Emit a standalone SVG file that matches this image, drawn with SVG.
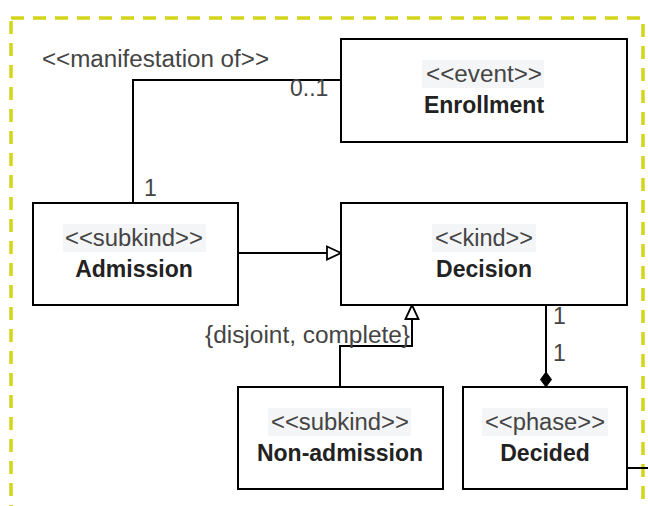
<svg xmlns="http://www.w3.org/2000/svg" width="648" height="506" viewBox="0 0 648 506">
  <defs>
    <style>
      .box { fill: #ffffff; stroke: #000000; stroke-width: 2; }
      .st { font-family: "Liberation Sans", Arial, sans-serif; font-size: 23px; fill: #444444; text-anchor: middle; }
      .nm { font-family: "Liberation Sans", Arial, sans-serif; font-size: 23px; font-weight: bold; fill: #222222; text-anchor: middle; }
      .lbl { font-family: "Liberation Sans", Arial, sans-serif; font-size: 23px; fill: #444444; }
      .stbg { fill: #f4f5f6; }
      .line { fill: none; stroke: #000000; stroke-width: 2; }
    </style>
    <marker id="gen" viewBox="0 0 16 16" refX="15" refY="8" markerWidth="16" markerHeight="16" markerUnits="userSpaceOnUse" orient="auto">
      <path d="M1,1.5 L15,8 L1,14.5 Z" fill="#ffffff" stroke="#000000" stroke-width="1.8"/>
    </marker>
    <marker id="comp" viewBox="0 0 16 12" refX="15.5" refY="6" markerWidth="16" markerHeight="12" markerUnits="userSpaceOnUse" orient="auto">
      <path d="M0.5,6 L8,0.5 L15.5,6 L8,11.5 Z" fill="#000000" stroke="#000000" stroke-width="1"/>
    </marker>
  </defs>

  <rect width="648" height="506" fill="#ffffff"/>

  <!-- package frame -->
  <rect x="11" y="18" width="632" height="520" fill="none" stroke="#d4d41a" stroke-width="3.5" stroke-dasharray="13,9"/>

  <!-- connectors -->
  <g id="connectors">
    <polyline class="line" points="133,203 133,80 341,80"/>
    <polyline class="line" points="238,253 341,253" marker-end="url(#gen)"/>
    <polyline class="line" points="340,387 340,346 412,346 412,305" marker-end="url(#gen)"/>
    <polyline class="line" points="546,305 546,387" marker-end="url(#comp)"/>
    <polyline class="line" points="627,468 648,468"/>
    <text class="lbl" x="42" y="67" textLength="227" lengthAdjust="spacingAndGlyphs">&lt;&lt;manifestation of&gt;&gt;</text>
    <text class="lbl" x="290" y="96">0..1</text>
    <text class="lbl" x="144" y="196">1</text>
    <text class="lbl" x="205" y="343" textLength="205" lengthAdjust="spacingAndGlyphs">{disjoint, complete}</text>
    <text class="lbl" x="553" y="324">1</text>
    <text class="lbl" x="553" y="361">1</text>
  </g>

  <g id="enrollment">
    <rect class="box" x="341" y="39" width="286" height="103"/>
    <rect class="stbg" x="422" y="60" width="122" height="28"/>
    <text class="st" x="484" y="82" textLength="116" lengthAdjust="spacingAndGlyphs">&lt;&lt;event&gt;&gt;</text>
    <text class="nm" x="484" y="113">Enrollment</text>
  </g>

  <g id="admission">
    <rect class="box" x="33" y="203" width="205" height="102"/>
    <rect class="stbg" x="63" y="224" width="143" height="28"/>
    <text class="st" x="134" y="246" textLength="138" lengthAdjust="spacingAndGlyphs">&lt;&lt;subkind&gt;&gt;</text>
    <text class="nm" x="134" y="277">Admission</text>
  </g>

  <g id="decision">
    <rect class="box" x="341" y="203" width="286" height="102"/>
    <rect class="stbg" x="432" y="224" width="104" height="28"/>
    <text class="st" x="484" y="246" textLength="98" lengthAdjust="spacingAndGlyphs">&lt;&lt;kind&gt;&gt;</text>
    <text class="nm" x="484" y="277">Decision</text>
  </g>

  <g id="non-admission">
    <rect class="box" x="238" y="387" width="205" height="102"/>
    <rect class="stbg" x="268" y="408" width="143" height="28"/>
    <text class="st" x="340" y="430" textLength="138" lengthAdjust="spacingAndGlyphs">&lt;&lt;subkind&gt;&gt;</text>
    <text class="nm" x="340" y="461">Non-admission</text>
  </g>

  <g id="decided">
    <rect class="box" x="463" y="387" width="164" height="102"/>
    <rect class="stbg" x="482" y="408" width="126" height="28"/>
    <text class="st" x="545" y="430" textLength="120" lengthAdjust="spacingAndGlyphs">&lt;&lt;phase&gt;&gt;</text>
    <text class="nm" x="545" y="461">Decided</text>
  </g>
</svg>
